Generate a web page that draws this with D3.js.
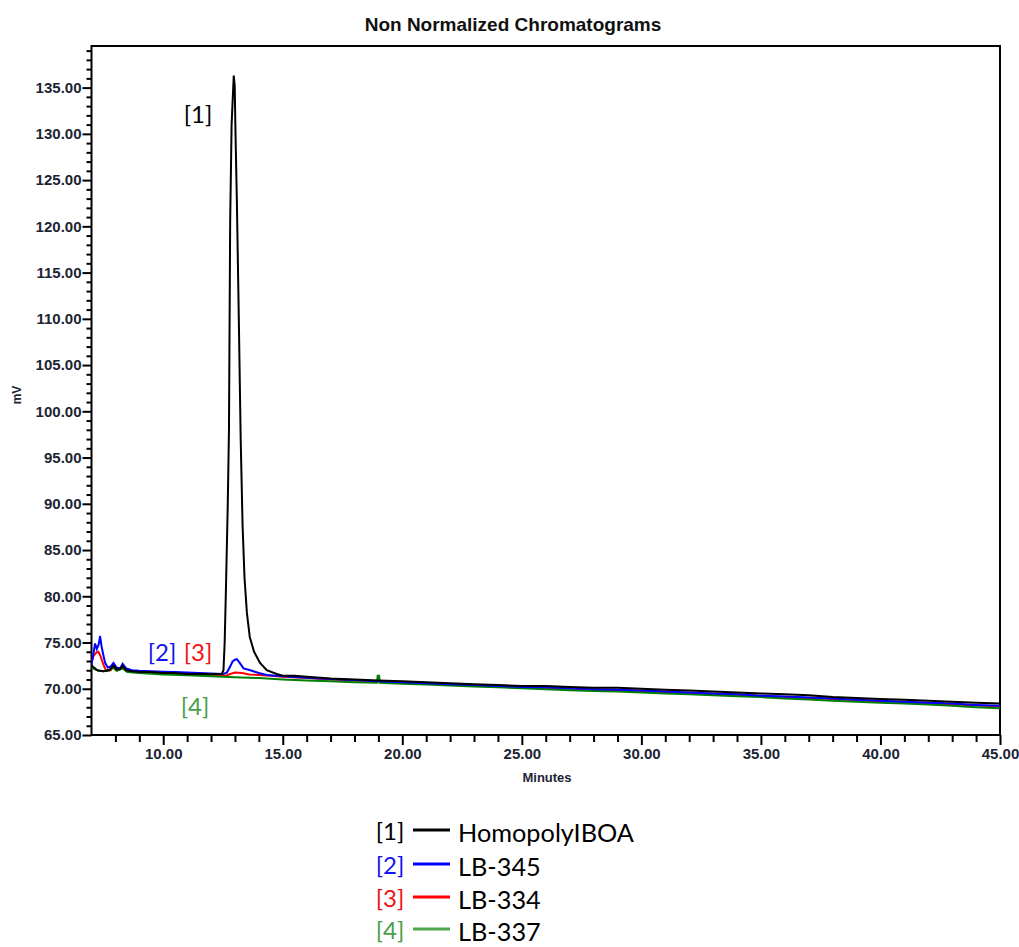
<!DOCTYPE html>
<html>
<head>
<meta charset="utf-8">
<script src="https://cdn.jsdelivr.net/npm/d3@7"></script>
<style>
  html, body { margin: 0; padding: 0; background: #fff; }
  svg { display: block; }
</style>
</head>
<body>
<svg id="chart" width="1019" height="947"></svg>
<script>
// ---------------- DATA ----------------
const chartTitle = "Non Normalized Chromatograms";
const xLabel = "Minutes";
const yLabel = "mV";

const xMajorTicks = [10, 15, 20, 25, 30, 35, 40, 45];
const xMinorTicks = [8, 9, 11, 12, 13, 14, 16, 17, 18, 19, 21, 22, 23, 24, 26, 27, 28, 29, 31, 32, 33, 34, 36, 37, 38, 39, 41, 42, 43, 44];
const yMajorTicks = [65, 70, 75, 80, 85, 90, 95, 100, 105, 110, 115, 120, 125, 130, 135];
const yMinorTicks = [66, 67, 68, 69, 71, 72, 73, 74, 76, 77, 78, 79, 81, 82, 83, 84, 86, 87, 88, 89, 91, 92, 93, 94,
  96, 97, 98, 99, 101, 102, 103, 104, 106, 107, 108, 109, 111, 112, 113, 114, 116, 117, 118, 119,
  121, 122, 123, 124, 126, 127, 128, 129, 131, 132, 133, 134, 136, 137, 138, 139];

const seriesTags = ["[1]", "[2]", "[3]", "[4]"];
const seriesNames = ["HomopolyIBOA", "LB-345", "LB-334", "LB-337"];

// [minutes, mV]
const homopolyIBOA = [
  [7.00,72.5],[7.10,72.3],[7.25,72.0],[7.50,71.9],[7.75,72.0],[7.92,72.5],[8.05,72.1],[8.20,72.1],[8.30,72.5],
  [8.45,72.0],[8.70,71.9],[9.00,71.8],[9.50,71.8],[10.00,71.7],[10.50,71.7],[11.00,71.6],[11.50,71.6],[12.00,71.6],
  [12.45,71.6],[12.52,72.0],[12.57,75.0],[12.62,80.4],[12.70,90.0],[12.75,98.0],[12.80,120.5],[12.86,131.0],
  [12.95,136.3],[12.99,135.2],[13.02,130.5],[13.08,122.8],[13.16,110.3],[13.24,97.0],[13.32,87.6],[13.40,82.0],
  [13.50,78.2],[13.62,75.6],[13.80,74.0],[14.05,72.8],[14.33,72.0],[14.75,71.6],[15.00,71.4],[15.50,71.4],
  [16.00,71.3],[17.00,71.1],[18.00,71.0],[19.00,70.9],[20.00,70.8],[21.00,70.7],[22.00,70.6],[23.00,70.5],
  [24.00,70.4],[25.00,70.3],[26.00,70.3],[27.00,70.2],[28.00,70.1],[29.00,70.1],[30.00,70.0],[31.00,69.9],
  [32.00,69.8],[33.00,69.7],[34.00,69.6],[35.00,69.5],[36.00,69.4],[37.00,69.3],[38.00,69.1],[39.00,69.0],
  [40.00,68.9],[41.00,68.8],[42.00,68.7],[43.00,68.6],[44.00,68.5],[45.00,68.4]
];
const lb345 = [
  [7.00,72.6],[7.08,73.8],[7.15,74.9],[7.22,74.3],[7.30,74.8],[7.36,75.7],[7.42,74.6],[7.50,73.6],[7.57,72.8],
  [7.68,72.3],[7.80,72.4],[7.92,72.8],[8.05,72.3],[8.20,72.2],[8.30,72.7],[8.45,72.2],[8.70,72.0],[9.00,71.95],
  [9.50,71.9],[10.00,71.85],[10.50,71.8],[11.00,71.75],[11.50,71.7],[12.00,71.65],[12.50,71.6],[12.66,71.75],
  [12.80,72.4],[12.90,72.95],[13.00,73.15],[13.08,73.2],[13.20,72.8],[13.36,72.2],[13.64,72.0],[14.00,71.7],
  [14.33,71.5],[15.00,71.35],[16.00,71.2],[17.00,71.05],[18.00,70.95],[19.00,70.8],[20.00,70.7],[21.00,70.6],
  [22.00,70.5],[23.00,70.4],[24.00,70.3],[25.00,70.2],[26.00,70.15],[27.00,70.05],[28.00,69.95],[29.00,69.9],
  [30.00,69.8],[31.00,69.7],[32.00,69.6],[33.00,69.5],[34.00,69.4],[35.00,69.25],[36.00,69.15],[37.00,69.05],
  [38.00,68.95],[39.00,68.8],[40.00,68.7],[41.00,68.6],[42.00,68.5],[43.00,68.4],[44.00,68.25],[45.00,68.15]
];
const lb334 = [
  [7.00,73.0],[7.10,73.6],[7.20,73.9],[7.29,74.0],[7.38,73.5],[7.50,72.6],[7.60,72.0],[7.80,72.0],[7.92,72.4],
  [8.10,72.0],[8.30,72.3],[8.50,71.9],[9.00,71.8],[10.00,71.7],[11.00,71.6],[12.00,71.5],[12.60,71.4],
  [12.80,71.6],[13.00,71.75],[13.30,71.7],[13.60,71.55],[14.00,71.5],[14.50,71.4],[15.00,71.3],[16.00,71.15],
  [17.00,71.0],[18.00,70.9],[19.00,70.75],[20.00,70.65],[22.00,70.45],[24.00,70.25],[26.00,70.1],[28.00,69.9],
  [30.00,69.75],[32.00,69.55],[34.00,69.35],[36.00,69.1],[38.00,68.9],[40.00,68.65],[42.00,68.45],[44.00,68.2],
  [45.00,68.1]
];
const lb337 = [
  [7.00,72.3],[7.15,72.1],[7.30,71.95],[7.50,71.9],[7.70,72.0],[7.90,72.3],[8.05,71.95],[8.30,72.2],[8.50,71.8],
  [9.00,71.7],[10.00,71.55],[11.00,71.45],[12.00,71.35],[13.00,71.25],[14.00,71.15],[15.00,71.0],[16.00,70.9],
  [17.00,70.8],[18.00,70.7],[18.94,70.65],[18.97,71.4],[19.03,71.4],[19.06,70.65],[20.00,70.55],[21.00,70.45],
  [22.00,70.35],[23.00,70.25],[24.00,70.15],[25.00,70.05],[26.00,69.95],[27.00,69.85],[28.00,69.75],[29.00,69.7],
  [30.00,69.6],[31.00,69.5],[32.00,69.4],[33.00,69.3],[34.00,69.2],[35.00,69.1],[36.00,68.95],[37.00,68.85],
  [38.00,68.7],[39.00,68.6],[40.00,68.5],[41.00,68.4],[42.00,68.3],[43.00,68.15],[44.00,68.0],[45.00,67.9]
];

// ---------------- STYLE / LAYOUT ----------------
const lineColors = ["#000000", "#0000ff", "#ff0000", "#008000"];
const tagColors = ["#000000", "#1414f0", "#f01414", "#4a9e4a"];
const legendLineColors = ["#000000", "#0000ff", "#ff0000", "#4ea64e"];

const plot = { left: 91.5, right: 1000, top: 46, bottom: 735 };
const svg = d3.select("#chart");

const x = d3.scaleLinear().domain([7, 45]).range([plot.left, plot.right]);
const y = d3.scaleLinear().domain([65, 139.5]).range([plot.bottom, plot.top]);

const axisFont = "'Liberation Sans', Arial, sans-serif";
const legendFont = "Lato, 'Open Sans', sans-serif";

// Title
svg.append("text")
  .attr("x", 513).attr("y", 31)
  .attr("text-anchor", "middle")
  .attr("font-family", axisFont).attr("font-weight", "bold").attr("font-size", 19)
  .attr("fill", "#111")
  .text(chartTitle);

// Axes
function styleAxis(g) {
  g.select(".domain").remove();
  g.selectAll(".tick line").attr("stroke", "#000").attr("stroke-width", 2);
  g.selectAll(".tick text")
    .attr("font-family", axisFont).attr("font-weight", "bold").attr("font-size", 15)
    .attr("fill", "#1c2433");
}

svg.append("g").attr("transform", `translate(${plot.left},0)`)
  .call(d3.axisLeft(y).tickValues(yMinorTicks).tickSize(5).tickFormat(""))
  .call(styleAxis);
svg.append("g").attr("transform", `translate(${plot.left},0)`)
  .call(d3.axisLeft(y).tickValues(yMajorTicks).tickSize(9).tickPadding(1).tickFormat(d3.format(".2f")))
  .call(styleAxis);

svg.append("g").attr("transform", `translate(0,${plot.bottom})`)
  .call(d3.axisBottom(x).tickValues(xMinorTicks).tickSize(7).tickFormat(""))
  .call(styleAxis);
svg.append("g").attr("transform", `translate(0,${plot.bottom})`)
  .call(d3.axisBottom(x).tickValues(xMajorTicks).tickSize(10).tickPadding(3).tickFormat(d3.format(".2f")))
  .call(styleAxis);

// Frame
svg.append("rect")
  .attr("x", plot.left).attr("y", plot.top)
  .attr("width", plot.right - plot.left).attr("height", plot.bottom - plot.top)
  .attr("fill", "none").attr("stroke", "#000").attr("stroke-width", 2);

// Axis labels
svg.append("text")
  .attr("x", 547).attr("y", 782)
  .attr("text-anchor", "middle")
  .attr("font-family", axisFont).attr("font-weight", "bold").attr("font-size", 13)
  .attr("fill", "#1c2433")
  .text(xLabel);
svg.append("text")
  .attr("transform", "translate(21,395) rotate(-90)")
  .attr("text-anchor", "middle")
  .attr("font-family", axisFont).attr("font-weight", "bold").attr("font-size", 12)
  .attr("fill", "#1c2433")
  .text(yLabel);

// Lines (drawn so black is on top)
const allSeries = [homopolyIBOA, lb345, lb334, lb337];
const drawOrder = [2, 3, 1, 0];
const line = d3.line().x(d => x(d[0])).y(d => y(d[1]));
svg.append("clipPath").attr("id", "plotclip").append("rect")
  .attr("x", plot.left).attr("y", plot.top)
  .attr("width", plot.right - plot.left).attr("height", plot.bottom - plot.top);
const linesG = svg.append("g").attr("clip-path", "url(#plotclip)");
drawOrder.forEach(i => {
  linesG.append("path")
    .datum(allSeries[i])
    .attr("d", line)
    .attr("fill", "none")
    .attr("stroke", lineColors[i])
    .attr("stroke-width", 2)
    .attr("stroke-linejoin", "miter");
});

// In-plot tags
const tagPos = [[198, 113], [162, 651], [198, 651], [195, 705]];
const tagSize = 24;
seriesTags.forEach((t, i) => {
  svg.append("text")
    .attr("x", tagPos[i][0]).attr("y", tagPos[i][1])
    .attr("text-anchor", "middle").attr("dominant-baseline", "central")
    .attr("font-family", legendFont).attr("font-size", tagSize)
    .attr("fill", tagColors[i])
    .text(t);
});

// Legend
const legendRows = [830, 864, 897, 929];
const legend = svg.append("g");
seriesNames.forEach((name, i) => {
  const ry = legendRows[i];
  legend.append("text")
    .attr("x", 390).attr("y", ry)
    .attr("text-anchor", "middle").attr("dominant-baseline", "central")
    .attr("font-family", legendFont).attr("font-size", tagSize)
    .attr("fill", tagColors[i])
    .text(seriesTags[i]);
  legend.append("line")
    .attr("x1", 413).attr("x2", 450).attr("y1", ry).attr("y2", ry)
    .attr("stroke", legendLineColors[i]).attr("stroke-width", 3);
  legend.append("text")
    .attr("class", "legend-name")
    .attr("x", 458).attr("y", ry + 2)
    .attr("dominant-baseline", "central")
    .attr("font-family", legendFont).attr("font-size", tagSize)
    .attr("fill", "#000")
    .text(name);
});
// fit legend font so the first name matches its width in the reference (~176px)
const first = legend.select(".legend-name").node();
const w = first.getComputedTextLength();
if (w > 0) {
  const fs = tagSize * 176 / w;
  legend.selectAll(".legend-name").attr("font-size", fs);
}
</script>
</body>
</html>
